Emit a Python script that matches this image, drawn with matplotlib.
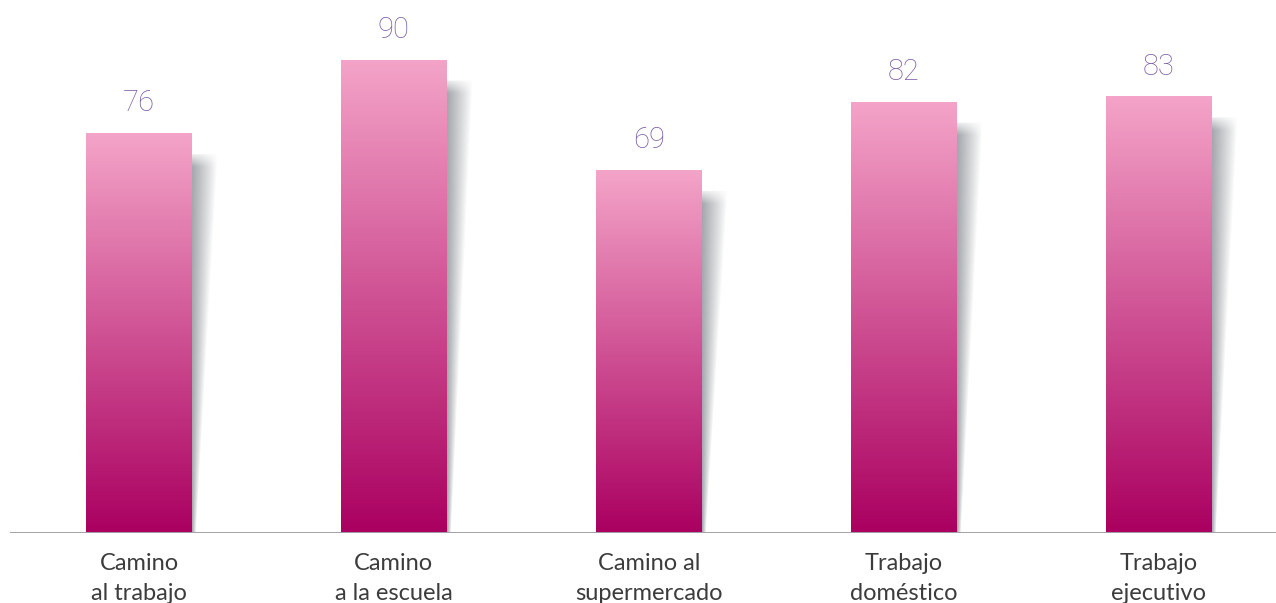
import numpy as np
import matplotlib
matplotlib.use("Agg")
import matplotlib.pyplot as plt
from matplotlib.colors import to_rgb
from matplotlib.patches import Polygon

# datos
categorias = ["Camino\nal trabajo", "Camino\na la escuela", "Camino al\nsupermercado",
              "Trabajo\ndoméstico", "Trabajo\nejecutivo"]
valores = [76, 90, 69, 82, 83]

color_arriba = "#f4a4c8"
color_abajo = "#aa0060"
color_valor = "#7a5ca3"

fig = plt.figure(figsize=(12.76, 6.03), dpi=100)
ax = fig.add_axes([0, 70 / 603, 1, 533 / 603])
ax.set_xlim(-0.545, 4.46)
ax.set_ylim(0, 533 / 5.26)
ax.axis("off")

px_x = 1 / 255.0   # unidad de datos por pixel en x
px_y = 1 / 5.26    # unidad de datos por pixel en y
ancho = 106 * px_x

x = np.arange(len(valores))
barras = ax.bar(x, valores, width=ancho, color="none", edgecolor="none", zorder=3)

# degradado vertical de cada barra
n = 256
t = np.linspace(0, 1, n)[:, None]
c0 = np.array(to_rgb(color_abajo))
c1 = np.array(to_rgb(color_arriba))
grad = (c0 * (1 - t) + c1 * t)[:, None, :].repeat(2, axis=1)

for b, v in zip(barras, valores):
    x0 = b.get_x()
    x1 = x0 + b.get_width()
    im = ax.imshow(grad, extent=[x0, x1, 0, v], origin="lower", aspect="auto",
                   interpolation="bilinear", zorder=3)
    im.set_clip_path(b)

    # sombra a la derecha
    y_top = v - 21 * px_y
    w_top = 26 * px_x
    w_bot = 4 * px_x
    poly = Polygon([(x1, 0), (x1 + w_bot, 0), (x1 + w_top, y_top), (x1, y_top)],
                   closed=True, facecolor="none", edgecolor="none")
    ax.add_patch(poly)
    ny, nx = 200, 60
    yy = np.linspace(0, 1, ny)[:, None]        # 0 abajo, 1 arriba
    xx = np.linspace(0, 1, nx)[None, :]
    w_loc = (w_bot + (w_top - w_bot) * yy) / w_top
    rel = np.clip(xx / w_loc, 0, 1)
    fade_top = 0.25 + 0.75 * np.clip((1 - yy) * y_top / (12 * px_y), 0, 1)
    alpha = 0.65 * (1 - rel) ** 0.9 * fade_top
    img = np.zeros((ny, nx, 4))
    img[..., 0] = 0.45
    img[..., 1] = 0.47
    img[..., 2] = 0.50
    img[..., 3] = alpha
    sh = ax.imshow(img, extent=[x1, x1 + w_top, 0, y_top], origin="lower", aspect="auto",
                   interpolation="bilinear", zorder=2)
    sh.set_clip_path(poly)

    ax.annotate(str(v), (b.get_x() + b.get_width() / 2, v), xytext=(0, 21.5),
                textcoords="offset points", ha="center", va="center",
                fontsize=21, color=color_valor, family="Roboto", fontweight="light")

# linea base
ax.axhline(0, xmin=11 / 1276, xmax=1, color="#a39fab", lw=1.4, zorder=4)

for xi, cat in zip(x, categorias):
    ax.text(xi, -20 * px_y, cat, ha="center", va="top", fontsize=17,
            color="#3c3c3c", family="Lato", linespacing=1.5)

fig.savefig("out.png", dpi=100)
